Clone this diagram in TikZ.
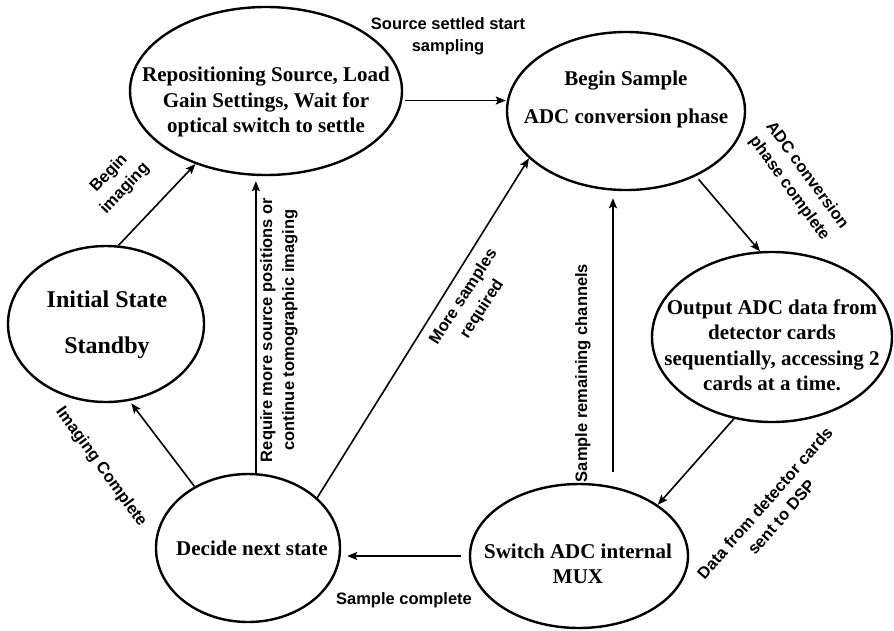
\documentclass[tikz,border=0pt]{standalone}
\usepackage{fontspec}
\setmainfont{Liberation Serif}
\setsansfont{Liberation Sans}
\usetikzlibrary{shapes.geometric,arrows.meta}
\begin{document}
\begin{tikzpicture}[x=1pt,y=-1pt,
  state/.style={draw, ellipse, line width=2.4pt, inner sep=0pt},
  statetext/.style={align=center, inner sep=0pt,
    font=\bfseries\fontsize{21}{25.5}\selectfont},
  edge/.style={line width=1.6pt, -{Stealth[length=10pt,width=8pt,inset=2pt]}},
  elabel/.style={align=center, inner sep=0pt,
    font=\sffamily\bfseries\fontsize{16.5}{22}\selectfont}]
\useasboundingbox[fill=white] (0,0) rectangle (894,630);

% states
\node[state, minimum width=272pt, minimum height=168pt] (rep) at (266,91) {};
\node[state, minimum width=238pt, minimum height=158pt] (beg) at (626,111) {};
\node[state, minimum width=196pt, minimum height=156pt] (ini) at (106,324) {};
\node[state, minimum width=240pt, minimum height=170pt] (out) at (772,337) {};
\node[state, minimum width=184pt, minimum height=148pt] (dec) at (248,548) {};
\node[state, minimum width=218pt, minimum height=144pt] (sw)  at (579,556) {};

% state texts
\node[statetext] (rep-t) at (266,102) {Repositioning Source, Load\\Gain Settings, Wait for\\optical switch to settle};
\node[statetext, font=\bfseries\fontsize{21}{38}\selectfont] (beg-t) at (626,99) {Begin Sample\\ADC conversion phase};
\node[statetext, font=\bfseries\fontsize{24}{46}\selectfont] (ini-t) at (107,325) {Initial State\\Standby};
\node[statetext] (out-t) at (772,345) {Output ADC data from\\detector cards\\sequentially, accessing 2\\cards at a time.};
\node[statetext] (dec-t) at (252,548) {Decide next state};
\node[statetext] (sw-t) at (578,564) {Switch ADC internal\\MUX};

% transitions
\draw[edge] (ini.81.6) -- (rep.-134);
\draw[edge, shorten >=5pt] (dec.84.6) -- (dec.84.6 |- rep.south);
\draw[edge] (dec.36.4) -- (beg.206.6);
\draw[edge, shorten <=3pt] (rep.-4.7) -- (rep.-4.7 -| beg.west);
\draw[edge, shorten <=4pt] (beg.-43.8) -- (out.98.9);
\draw[edge] (out.-115) -- (sw.33.2);
\draw[edge, shorten <=14pt, shorten >=7pt] (sw.64.3) -- (sw.64.3 |- beg.south);
\draw[edge, shorten <=8pt, shorten >=6pt] (sw.west) -- (sw.west -| dec.east);
\draw[edge, shorten >=3pt] (dec.131.6) -- (ini.-73.5);

% transition labels
\node[elabel] (l-settle) at (448,36) {Source settled start\\sampling};
\node[elabel, rotate=46.5] (l-begin) at (117,181) {Begin\\imaging};
\node[elabel, rotate=90] (l-require) at (279,330) {Require more source positions or\\continue tomographic imaging};
\node[elabel, rotate=57] (l-more) at (473,303) {More samples\\required};
\node[elabel, rotate=90] (l-remain) at (583,373) {Sample remaining channels};
\node[elabel, rotate=-54] (l-adc) at (798,182) {ADC conversion\\phase complete};
\node[elabel, rotate=48.7] (l-data) at (773,510) {Data from detector cards\\sent to DSP};
\node[elabel, rotate=-54] (l-imgdone) at (101,467) {Imaging Complete};
\node[elabel] (l-sample) at (404,600) {Sample complete};
\end{tikzpicture}
\end{document}
